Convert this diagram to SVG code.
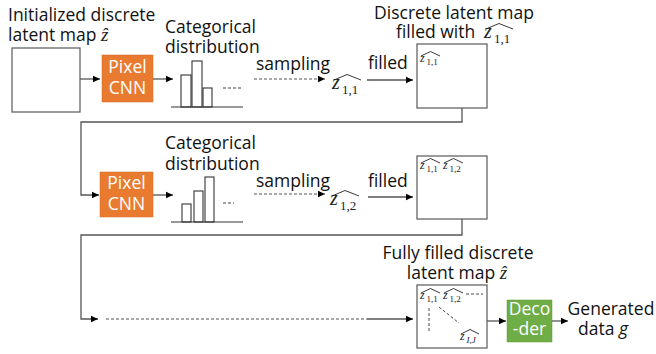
<svg xmlns="http://www.w3.org/2000/svg" width="656" height="354" viewBox="0 0 656 354">
<defs>
<marker id="ah" markerWidth="8" markerHeight="8" refX="7" refY="4" orient="auto" markerUnits="userSpaceOnUse">
<path d="M0,0.8 L7,4 L0,7.2 Z" fill="#000"/>
</marker>
<style>
.t{font-family:"Open Sans","Noto Sans","Liberation Sans",sans-serif;font-size:17.5px;fill:#111}
.w{font-family:"Open Sans","Noto Sans","Liberation Sans",sans-serif;font-size:17.5px;fill:#fff}
.m{font-family:"Liberation Serif","DejaVu Serif",serif;font-style:italic;fill:#222}
.s{font-family:"Liberation Serif","DejaVu Serif",serif;fill:#222}
.box{fill:#fff;stroke:#666;stroke-width:1.3}
.ln{fill:none;stroke:#555;stroke-width:1.3}
.dl{fill:none;stroke:#555;stroke-width:1.2;stroke-dasharray:3 2}
.hat{fill:none;stroke:#222;stroke-width:0.9}
.bar{fill:#fff;stroke:#333;stroke-width:1.1}
.pcnn{fill:#E97B30;stroke:#D86A20;stroke-width:0.5}
.dec{fill:#6FAD46;stroke:#5F9C38;stroke-width:0.5}
</style>
</defs>

<!-- Row 1 -->
<g id="init-map">
<text class="t" x="8" y="21">Initialized discrete</text>
<text class="t" x="8" y="41">latent map <tspan class="m" font-size="19">ẑ</tspan></text>
<rect class="box" x="12" y="48" width="68" height="64"/>
</g>
<g id="pixelcnn-1">
<rect class="pcnn" x="102" y="55" width="51" height="47"/>
<text class="w" x="127.5" y="73" text-anchor="middle">Pixel</text>
<text class="w" x="127.5" y="94" text-anchor="middle">CNN</text>
</g>
<g id="dist-1">
<text class="t" x="165" y="33">Categorical</text>
<text class="t" x="165" y="53">distribution</text>
<rect class="bar" x="181" y="75" width="10" height="32"/>
<rect class="bar" x="192" y="61" width="10" height="46"/>
<rect class="bar" x="203" y="88" width="9" height="19"/>
<line x1="171" y1="107" x2="243" y2="107" stroke="#333" stroke-width="1.2"/>
<line x1="223" y1="88" x2="241" y2="88" stroke="#444" stroke-width="1" stroke-dasharray="3 2"/>
</g>
<g id="z11">
<text class="m" x="332" y="89" font-size="20">z</text>
<text class="s" x="342" y="94" font-size="13">1,1</text>
<path class="hat" d="M334,80 L347,74.5 L361,80"/>
</g>
<g id="map-1">
<text class="t" x="454" y="19" text-anchor="middle">Discrete latent map</text>
<text class="t" x="396" y="38">filled with</text>
<text class="m" x="484" y="38" font-size="20">z</text>
<text class="s" x="494" y="43" font-size="13">1,1</text>
<path class="hat" d="M486,29 L499,23.5 L513,29"/>
<rect class="box" x="417" y="44" width="70" height="64"/>
<text class="m" x="420" y="62" font-size="12">z</text>
<text class="s" x="426.5" y="65" font-size="9">1,1</text>
<path class="hat" d="M421,56 L430.5,51.5 L440,56"/>
</g>

<!-- Row 2 -->
<g id="pixelcnn-2">
<rect class="pcnn" x="100" y="172" width="53" height="45"/>
<text class="w" x="126.5" y="189" text-anchor="middle">Pixel</text>
<text class="w" x="126.5" y="210" text-anchor="middle">CNN</text>
</g>
<g id="dist-2">
<text class="t" x="165" y="149">Categorical</text>
<text class="t" x="165" y="170">distribution</text>
<rect class="bar" x="182" y="204" width="9" height="18"/>
<rect class="bar" x="194" y="191" width="9" height="31"/>
<rect class="bar" x="205" y="177" width="9" height="45"/>
<line x1="171" y1="222" x2="243" y2="222" stroke="#333" stroke-width="1.2"/>
<line x1="223" y1="203" x2="234" y2="203" stroke="#444" stroke-width="1" stroke-dasharray="3 2"/>
</g>
<g id="z12">
<text class="m" x="330" y="205" font-size="20">z</text>
<text class="s" x="340" y="210" font-size="13">1,2</text>
<path class="hat" d="M332,196 L345,190.5 L359,196"/>
</g>
<g id="map-2">
<rect class="box" x="417" y="156" width="70" height="63"/>
<text class="m" x="420" y="169" font-size="12">z</text>
<text class="s" x="426.5" y="172" font-size="9">1,1</text>
<path class="hat" d="M421,163 L430.5,158.5 L440,163"/>
<text class="m" x="443" y="169" font-size="12">z</text>
<text class="s" x="449.5" y="172" font-size="9">1,2</text>
<path class="hat" d="M444,163 L453.5,158.5 L463,163"/>
</g>

<!-- Row 3 -->
<g id="map-full">
<text class="t" x="458" y="259" text-anchor="middle">Fully filled discrete</text>
<text class="t" x="457" y="279" text-anchor="middle">latent map <tspan class="m" font-size="19">ẑ</tspan></text>
<rect class="box" x="417" y="285" width="70" height="63"/>
<text class="m" x="420" y="299" font-size="12">z</text>
<text class="s" x="426.5" y="302" font-size="9">1,1</text>
<path class="hat" d="M421,293 L430.5,288.5 L440,293"/>
<text class="m" x="443" y="299" font-size="12">z</text>
<text class="s" x="449.5" y="302" font-size="9">1,2</text>
<path class="hat" d="M444,293 L453.5,288.5 L463,293"/>
<line x1="466" y1="294" x2="483" y2="294" stroke="#333" stroke-width="0.9" stroke-dasharray="3 2"/>
<line x1="429" y1="308" x2="429" y2="333" stroke="#333" stroke-width="0.9" stroke-dasharray="3 2"/>
<line x1="439" y1="307" x2="459" y2="323" stroke="#333" stroke-width="0.9" stroke-dasharray="3 2"/>
<text class="m" x="460" y="340" font-size="12">z</text>
<text class="s" x="466.5" y="343" font-size="9" font-style="italic">I,J</text>
<path class="hat" d="M461,334 L470,329.5 L479,334"/>
</g>
<g id="decoder">
<rect class="dec" x="507" y="300" width="45" height="42"/>
<text class="w" x="529.5" y="315" text-anchor="middle">Deco</text>
<text class="w" x="529.5" y="335" text-anchor="middle">-der</text>
</g>
<g id="output">
<text class="t" x="611" y="315" text-anchor="middle">Generated</text>
<text class="t" x="603" y="335" text-anchor="middle">data <tspan font-style="italic">g</tspan></text>
</g>

<!-- Connectors -->
<g id="connectors">
<line class="ln" x1="80" y1="79" x2="100" y2="79" marker-end="url(#ah)"/>
<line class="ln" x1="153" y1="79" x2="173" y2="79" marker-end="url(#ah)"/>
<line class="dl" x1="254" y1="79" x2="325" y2="79" marker-end="url(#ah)"/>
<text class="t" x="256" y="70">sampling</text>
<line class="ln" x1="367" y1="80" x2="413" y2="80" marker-end="url(#ah)"/>
<text class="t" x="368" y="69">filled</text>
<polyline class="ln" points="462,108 462,122 81,122 81,195 99,195" marker-end="url(#ah)"/>

<line class="ln" x1="153" y1="195" x2="173" y2="195" marker-end="url(#ah)"/>
<line class="dl" x1="254" y1="194" x2="325" y2="194" marker-end="url(#ah)"/>
<text class="t" x="256" y="187">sampling</text>
<line class="ln" x1="368" y1="197" x2="413" y2="197" marker-end="url(#ah)"/>
<text class="t" x="368" y="187">filled</text>
<polyline class="ln" points="462,219 462,235 81,235 81,319 98,319" marker-end="url(#ah)"/>
<line class="dl" x1="106" y1="319" x2="367" y2="319"/>
<line class="ln" x1="367" y1="319" x2="413" y2="319" marker-end="url(#ah)"/>

<line class="ln" x1="487" y1="321" x2="506" y2="321" marker-end="url(#ah)"/>
<line class="ln" x1="552" y1="321" x2="568" y2="321" marker-end="url(#ah)"/>
</g>
</svg>
